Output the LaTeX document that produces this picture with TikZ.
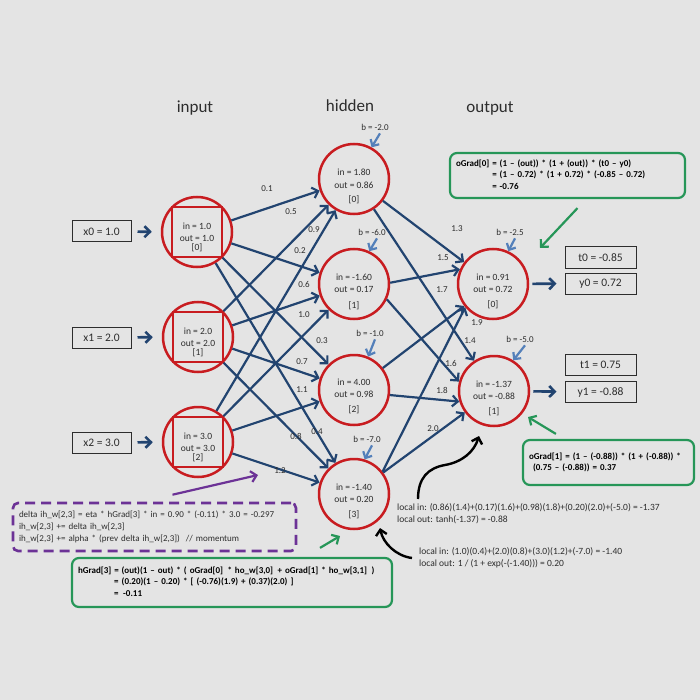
\documentclass[tikz,border=0pt]{standalone}
\usepackage{fontspec}
\setmainfont{Carlito}
\usetikzlibrary{arrows.meta,calc}
\definecolor{bgc}{RGB}{228,228,228}
\definecolor{nred}{RGB}{200,28,32}
\definecolor{eblue}{RGB}{34,68,112}
\definecolor{bblue}{RGB}{84,128,186}
\definecolor{ggreen}{RGB}{38,150,88}
\definecolor{ppurple}{RGB}{108,50,150}
\definecolor{txtc}{RGB}{45,45,45}
\tikzset{
  neuron/.style={circle,draw=nred,line width=2.5pt,minimum size=70pt,inner sep=0pt},
  ntext/.style={font=\fontsize{9.5}{11}\selectfont,text=txtc,inner sep=0pt},
  wlab/.style={font=\fontsize{9}{10}\selectfont,text=txtc,inner sep=0pt},
  ttl/.style={font=\fontsize{17}{20}\selectfont,text=txtc,inner sep=0pt},
  valbox/.style={draw=txtc,line width=1pt,font=\fontsize{11.5}{13}\selectfont,text=txtc,inner sep=0pt,minimum height=21pt},
  edgearrow/.style={draw=eblue,line width=2.2pt,-{Straight Barb[length=5.5pt,width=11pt]}},
  thickarrow/.style={draw=eblue,line width=2.6pt,-{Straight Barb[length=5.5pt,width=11pt]}},
  biasarrow/.style={draw=bblue,line width=2.2pt,-{Straight Barb[length=5pt,width=10pt]}},
  garrow/.style={draw=ggreen,line width=2.2pt,-{Straight Barb[length=5.5pt,width=11pt]}},
  parrow/.style={draw=ppurple,line width=2.2pt,-{Straight Barb[length=5.5pt,width=11pt]}},
  blkarrow/.style={draw=black,line width=2.4pt,-{Straight Barb[length=5.5pt,width=11pt]}},
  gbox/.style={draw=ggreen,line width=2.2pt,rounded corners=7pt,align=left,text=black,
    font=\fontsize{9}{11.5}\selectfont\bfseries,inner ysep=0pt},
  pbox/.style={draw=ppurple,line width=2.6pt,dash pattern=on 10pt off 6pt,rounded corners=5pt,
    align=left,text=txtc,font=\fontsize{9}{12}\selectfont,inner ysep=0pt},
  ltext/.style={anchor=west,font=\fontsize{9.5}{11}\selectfont,text=txtc,inner sep=0pt},
}
\newcommand{\neurtxt}[7]{%
  \node[ntext] (#1in) at ($(#1)+(0,#5)$) {in = #2};
  \node[ntext] (#1out) at ($(#1)+(0,#6)$) {out = #3};
  \node[ntext] (#1idx) at ($(#1)+(0,#7)$) {[#4]};}
\newcommand{\biasof}[5]{%
  \node[wlab] (#1b) at (#2,#3) {b = #4};
  \draw[biasarrow] ($(#1b.south)+(5,3)$) -- (#1.#5);}
\begin{document}
\begin{tikzpicture}[x=1pt,y=-1pt]
\fill[bgc] (0,0) rectangle (700,700);
\useasboundingbox (0,0) rectangle (700,700);

% titles
\node[ttl] (tin) at (195,108) {input};
\node[ttl] (thid) at (350,106) {hidden};
\node[ttl] (tout) at (490,108) {output};

% neurons
\node[neuron] (i0) at (197,232) {};
\node[neuron] (i1) at (198,337) {};
\node[neuron] (i2) at (198,442) {};
\foreach \n in {i0,i1,i2}
  \draw[nred,line width=2.5pt] ($(\n)+(-25,-25)$) rectangle ($(\n)+(25,25)$);
\node[neuron] (h0) at (354,179) {};
\node[neuron] (h1) at (354,284) {};
\node[neuron] (h2) at (354,390) {};
\node[neuron] (h3) at (354,494) {};
\node[neuron] (o0) at (493,284) {};
\node[neuron] (o1) at (494,391) {};

\neurtxt{i0}{1.0}{1.0}{0}{-6}{6}{16}
\neurtxt{i1}{2.0}{2.0}{1}{-6}{6}{16}
\neurtxt{i2}{3.0}{3.0}{2}{-6}{6}{16}
\neurtxt{h0}{1.80}{0.86}{0}{-7}{6}{21}
\neurtxt{h1}{-1.60}{0.17}{1}{-7}{5}{22}
\neurtxt{h2}{4.00}{0.98}{2}{-8}{4}{20}
\neurtxt{h3}{-1.40}{0.20}{3}{-7}{5}{21}
\neurtxt{o0}{0.91}{0.72}{0}{-7}{5}{21}
\neurtxt{o1}{-1.37}{-0.88}{1}{-7}{5}{21}

% input -> hidden
\foreach \i in {0,1,2}
  \foreach \j in {0,1,2,3}
    \draw[edgearrow] (i\i) -- (h\j);
\foreach \nm/\x/\y/\t in {w00/267/189/0.1, w10/291/212/0.5, w20/314/230/0.9, w01/300/251/0.2,
  w11/304/284/0.6, w21/304/315/1.0, w02/322/341/0.3, w12/302/362/0.7, w22/302/390/1.1,
  w13/296/436/0.8, w03/317/432/0.4, w23/280/471/1.2}
  \node[wlab] (\nm) at (\x,\y) {\t};

% hidden -> output
\draw[edgearrow] (h0) -- (o0);
\draw[edgearrow] (h0) -- (o1);
\draw[edgearrow] (h1.2) -- (o0.156);
\draw[edgearrow] (h1.-25) -- (o1.165);
\draw[edgearrow] (h2) -- (o0);
\draw[edgearrow] (h2.-8) -- (o1.-163);
\draw[edgearrow] (h3.38) -- (o0.220);
\draw[edgearrow] (h3) -- (o1);
\foreach \nm/\x/\y/\t in {v00/457/229/1.3, v10/443/258/1.5, v20/442/290/1.7, v30/477/323/1.9,
  v01/470/341/1.4, v11/451/363/1.6, v21/442/390/1.8, v31/433/429/2.0}
  \node[wlab] (\nm) at (\x,\y) {\t};

% biases
\biasof{h0}{375}{127}{-2.0}{61}
\biasof{h1}{372}{232}{-6.0}{65}
\biasof{h2}{370}{333}{-1.0}{67}
\biasof{h3}{367}{439}{-7.0}{73}
\biasof{o0}{510}{232}{-2.5}{65}
\biasof{o1}{520}{339}{-5.0}{58}

% input value boxes
\node[valbox,minimum width=59pt] (x0) at (101.5,231.5) {x0 = 1.0};
\node[valbox,minimum width=59pt] (x1) at (101.5,337.5) {x1 = 2.0};
\node[valbox,minimum width=59pt] (x2) at (101.5,442.5) {x2 = 3.0};
\foreach \n in {0,1,2}
  \draw[thickarrow,shorten <=6pt,shorten >=9pt] (x\n) -- (i\n);

% output value boxes
\node[valbox,minimum width=71pt] (t0) at (600.5,257.5) {t0 = -0.85};
\node[valbox,minimum width=71pt] (y0) at (600.5,283.5) {y0 = 0.72};
\node[valbox,minimum width=71pt] (t1) at (600.5,365) {t1 = 0.75};
\node[valbox,minimum width=71pt] (y1) at (600.5,392) {y1 = -0.88};
\draw[thickarrow,shorten <=3pt,shorten >=8pt] (o0) -- (y0);
\draw[thickarrow,shorten <=3pt,shorten >=8pt] (o1) -- (y1);

% green boxes
\node[gbox,minimum height=45pt,text width=223pt,inner xsep=6pt] (g0) at (567.5,175.5)
  {\begin{tabular}{@{}l@{ }l@{}}oGrad[0] & = (1 – (out)) * (1 + (out)) * (t0 – y0)\\
   & = (1 – 0.72) * (1 + 0.72) * (-0.85 – 0.72)\\ & = -0.76\end{tabular}};
\draw[garrow] ($(g0.south)+(10,9)$) -- ($(o0)+(47,-36)$);

\node[gbox,minimum height=45pt,text width=159pt,inner xsep=6pt,font=\fontsize{9}{10.5}\selectfont\bfseries] (g1) at (608.5,462.5)
  {oGrad[1] = (1 – (-0.88)) * (1 + (-0.88)) *\\\hspace*{4pt}(0.75 – (-0.88)) = 0.37};
\draw[garrow] ($(g1.north west)+(34,-5)$) -- ($(o1)+(34,26)$);

\node[gbox,minimum height=49pt,text width=308pt,inner xsep=6pt] (hg) at (232,582.5)
  {\begin{tabular}{@{}l@{ }l@{}}hGrad[3] & = (out)(1 – out) * ( oGrad[0] \,* ho\_w[3,0] \,+ oGrad[1] * ho\_w[3,1] \,)\\
   & = (0.20)(1 – 0.20) * [ (-0.76)(1.9) + (0.37)(2.0) ]\\ & = \,-0.11\end{tabular}};
\draw[garrow] ($(hg.north)+(88,-9)$) -- ($(h3)+(-14,42)$);

% purple dashed box
\node[pbox,minimum height=48pt,text width=271pt,inner xsep=6pt] (pb) at (154.5,527)
  {delta ih\_w[2,3] = eta * hGrad[3] * in = 0.90 * (-0.11) * 3.0 = -0.297\\
   ih\_w[2,3] += delta ih\_w[2,3]\\
   ih\_w[2,3] += alpha * (prev delta ih\_w[2,3]) \ // momentum};
\coordinate (pend) at (258,475);
\draw[parrow] ($(pb.north)+(18,-7)$) -- (pend);

% local computations
\node[ltext] (l1a) at (397,508) {local in: (0.86)(1.4)+(0.17)(1.6)+(0.98)(1.8)+(0.20)(2.0)+(-5.0) = -1.37};
\node[ltext] (l1b) at (397,520) {local out: tanh(-1.37) = -0.88};
\node[ltext] (l2a) at (419,552) {local in: (1.0)(0.4)+(2.0)(0.8)+(3.0)(1.2)+(-7.0) = -1.40};
\node[ltext] (l2b) at (419,564) {local out: 1 / (1 + exp(-(-1.40))) = 0.20};

\coordinate (c1s) at (418,499);
\coordinate (c1e) at (479,436);
\draw[blkarrow] (c1s) .. controls (418,478) and (428,468) .. (445,465)
  .. controls (462,462) and (474,452) .. (c1e);
\coordinate (c2s) at (412,558);
\coordinate (c2e) at (380,528);
\draw[blkarrow] (c2s) .. controls (396,556) and (383,543) .. (c2e);
\end{tikzpicture}
\end{document}
